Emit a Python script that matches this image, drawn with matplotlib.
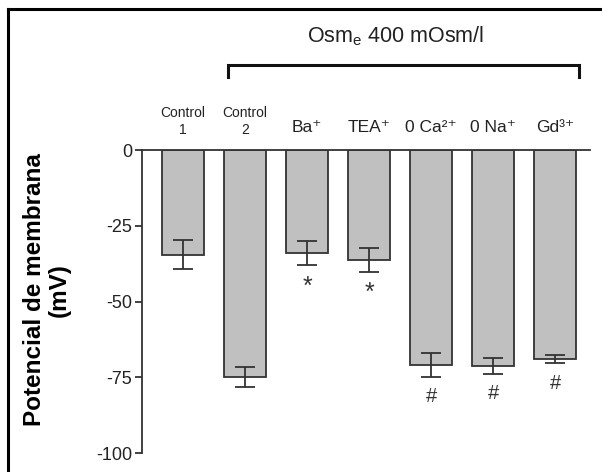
# Potencial de membrana - Osm_e 400 mOsm/l
import matplotlib
matplotlib.use("Agg")
import matplotlib.pyplot as plt
from matplotlib.lines import Line2D

plt.rcParams['font.family'] = ['Liberation Sans', 'DejaVu Sans']
plt.rcParams['mathtext.fontset'] = 'custom'
plt.rcParams['mathtext.rm'] = 'Liberation Sans'
plt.rcParams['mathtext.it'] = 'Liberation Sans'

# dados
grupos = ['Control\n1', 'Control\n2', 'Ba⁺', 'TEA⁺', '0 Ca²⁺', '0 Na⁺', 'Gd³⁺']
medias = [-34.5, -75.0, -34.0, -36.2, -71.0, -71.2, -69.0]
erros = [4.8, 3.3, 4.0, 4.0, 3.9, 2.6, 1.4]
marcas = ['', '', '*', '*', '#', '#', '#']
yticks = [0, -25, -50, -75, -100]

cinza = '#c0c0c0'
escuro = '#333333'

fig = plt.figure(figsize=(6.02, 4.72), dpi=100)
ax = fig.add_axes([0.236, 0.040, 0.744, 0.642])

x = list(range(len(grupos)))
ax.bar(x, medias, width=0.67, color=cinza, edgecolor=escuro, linewidth=1.3, zorder=2)
ax.errorbar(x, medias, yerr=erros, fmt='none', ecolor=escuro, elinewidth=1.3,
            capsize=7, capthick=1.3, zorder=3)

# asteriscos e #
for xi, m, e, s in zip(x, medias, erros, marcas):
    if s == '*':
        ax.text(xi, m - e - 7, s, ha='center', va='center', fontsize=18, color=escuro)
    elif s == '#':
        ax.text(xi, m - e - 6.5, s, ha='center', va='center', fontsize=14.5, color=escuro)

# rotulos acima das barras
for xi, g in zip(x, grupos):
    if g.startswith('Control'):
        ax.text(xi, 4.3, g, ha='center', va='bottom', fontsize=10, linespacing=1.25,
                color='#222222', clip_on=False)
    else:
        ax.text(xi, 5.0, g, ha='center', va='bottom', fontsize=12.5,
                color='#222222', clip_on=False)

# colchete
y_b, y_t = 28, 24
ax.plot([0.72, 0.72, 6.38, 6.38], [y_t, y_b, y_b, y_t], color='#111111', lw=2.2,
        clip_on=False, solid_joinstyle='miter')
ax.text(3.43, 37.5, r'Osm$_{e}$ 400 mOsm/l', ha='center', va='center', fontsize=15.5,
        color='#222222', clip_on=False)

ax.set_xlim(-0.66, 6.56)
ax.set_ylim(-100, 0)
ax.set_yticks(yticks)
ax.set_yticklabels([str(t) for t in yticks], fontsize=13, color='#222222')
ax.set_xticks([])
for lado in ['bottom', 'right']:
    ax.spines[lado].set_visible(False)
ax.spines['left'].set_color(escuro)
ax.spines['top'].set_color(escuro)
ax.spines['left'].set_linewidth(1.3)
ax.spines['top'].set_linewidth(1.3)
ax.tick_params(axis='y', length=5, width=1.3, color=escuro, pad=2)

fig.text(47 / 602, 1 - 290 / 472, 'Potencial de membrana\n(mV)', rotation=90,
         ha='center', va='center', fontsize=17.5, fontweight='bold', linespacing=1.1)

# moldura
fig.add_artist(Line2D([0.013, 0.013], [0.0, 0.981], color='black', lw=2.2))
fig.add_artist(Line2D([0.013, 1.0], [0.981, 0.981], color='black', lw=2.2))

plt.savefig('out.png', dpi=100)
